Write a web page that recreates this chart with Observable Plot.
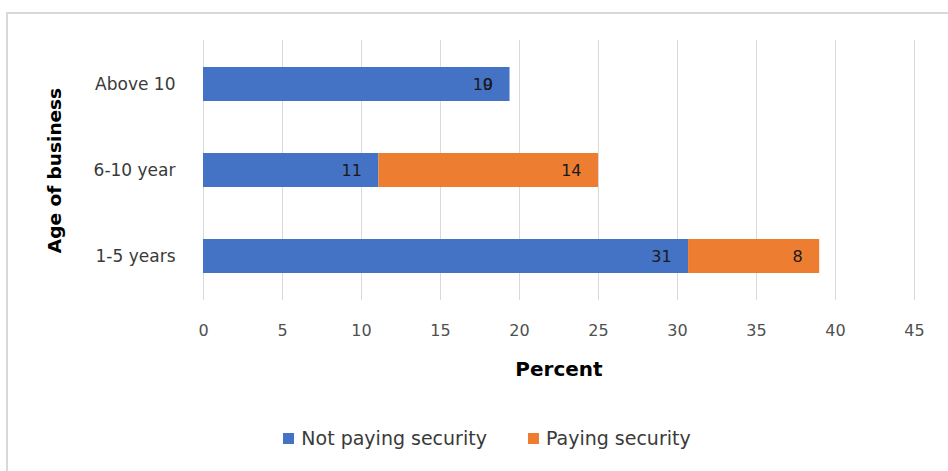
<!DOCTYPE html>
<html>
<head>
<meta charset="utf-8">
<script src="https://cdn.jsdelivr.net/npm/d3@7"></script>
<script src="https://cdn.jsdelivr.net/npm/@observablehq/plot@0.6"></script>
<style>
  html, body { margin: 0; padding: 0; background: #fff; }
  body { width: 948px; height: 471px; overflow: hidden; position: relative;
         font-family: "DejaVu Sans", sans-serif; }
  #frame { position: absolute; left: 6px; top: 12px; width: 960px; height: 480px;
           border: 2px solid #d9d9d9; box-sizing: border-box; }
  #chart { position: absolute; left: 0; top: 0; }
  #chart svg { font-family: "DejaVu Sans", sans-serif; overflow: visible; }
  #chart g[aria-label="x-axis tick label"] text { font-size: 16px; fill: #505050; }
  #chart g[aria-label="y-axis tick label"] text { font-size: 17px; fill: #3a3a3a; }
  #chart g[aria-label="x-axis label"] text { font-weight: bold; font-size: 20px; fill: #000; }
  #chart g[aria-label="y-axis label"] text { font-weight: bold; font-size: 18.5px; fill: #000; }
  #legend { position: absolute; top: 427px; left: 0; width: 974px; display: flex;
            justify-content: center; gap: 41px; font-size: 19px; color: #3a3a3a; }
  #legend .item { display: flex; align-items: center; gap: 7px; }
  #legend .sw { width: 11px; height: 11px; display: inline-block; }
</style>
</head>
<body>
<div id="frame"></div>
<div id="chart"></div>
<div id="legend"></div>
<script>
const ages = ["Above 10", "6-10 year", "1-5 years"];
const seriesNames = ["Not paying security", "Paying security"];
const notPaying = [19.4, 11.1, 30.7];
const paying = [0, 13.9, 8.3];
const xTicks = [0, 5, 10, 15, 20, 25, 30, 35, 40, 45];
const colors = ["#4472C4", "#ED7D31"];

const rows = [];
ages.forEach((a, i) => {
  rows.push({age: a, series: seriesNames[0], value: notPaying[i]});
  rows.push({age: a, series: seriesNames[1], value: paying[i]});
});

const plot = Plot.plot({
  width: 948,
  height: 400,
  marginLeft: 203,
  marginRight: 34,
  marginTop: 40,
  marginBottom: 100,
  style: {background: "transparent"},
  x: {domain: [0, 45], ticks: xTicks, grid: true, tickSize: 0, tickPadding: 24,
      label: "Percent", labelAnchor: "center", labelOffset: 75, labelArrow: false},
  y: {domain: ages, paddingInner: 0.6, paddingOuter: 0.3, tickSize: 0, tickPadding: 28,
      label: "Age of business", labelAnchor: "center", labelOffset: 156, labelArrow: false},
  color: {domain: seriesNames, range: colors},
  marks: [
    Plot.barX(rows, Plot.stackX({x: "value", y: "age", fill: "series", order: null})),
    Plot.text(rows, Plot.stackX2({x: "value", y: "age", z: "series", order: null,
      text: d => String(Math.round(d.value)), textAnchor: "end", dx: -17,
      fill: "#1a1a1a", fontSize: 16}))
  ]
});
d3.select(plot).selectAll('g[aria-label="x-grid"] line').attr("stroke", "#d9d9d9").attr("stroke-opacity", 1);
document.getElementById("chart").appendChild(plot);

const legend = document.getElementById("legend");
seriesNames.forEach((s, i) => {
  const item = document.createElement("div");
  item.className = "item";
  const sw = document.createElement("span");
  sw.className = "sw";
  sw.style.background = colors[i];
  const t = document.createElement("span");
  t.textContent = s;
  item.appendChild(sw); item.appendChild(t);
  legend.appendChild(item);
});
</script>
</body>
</html>
